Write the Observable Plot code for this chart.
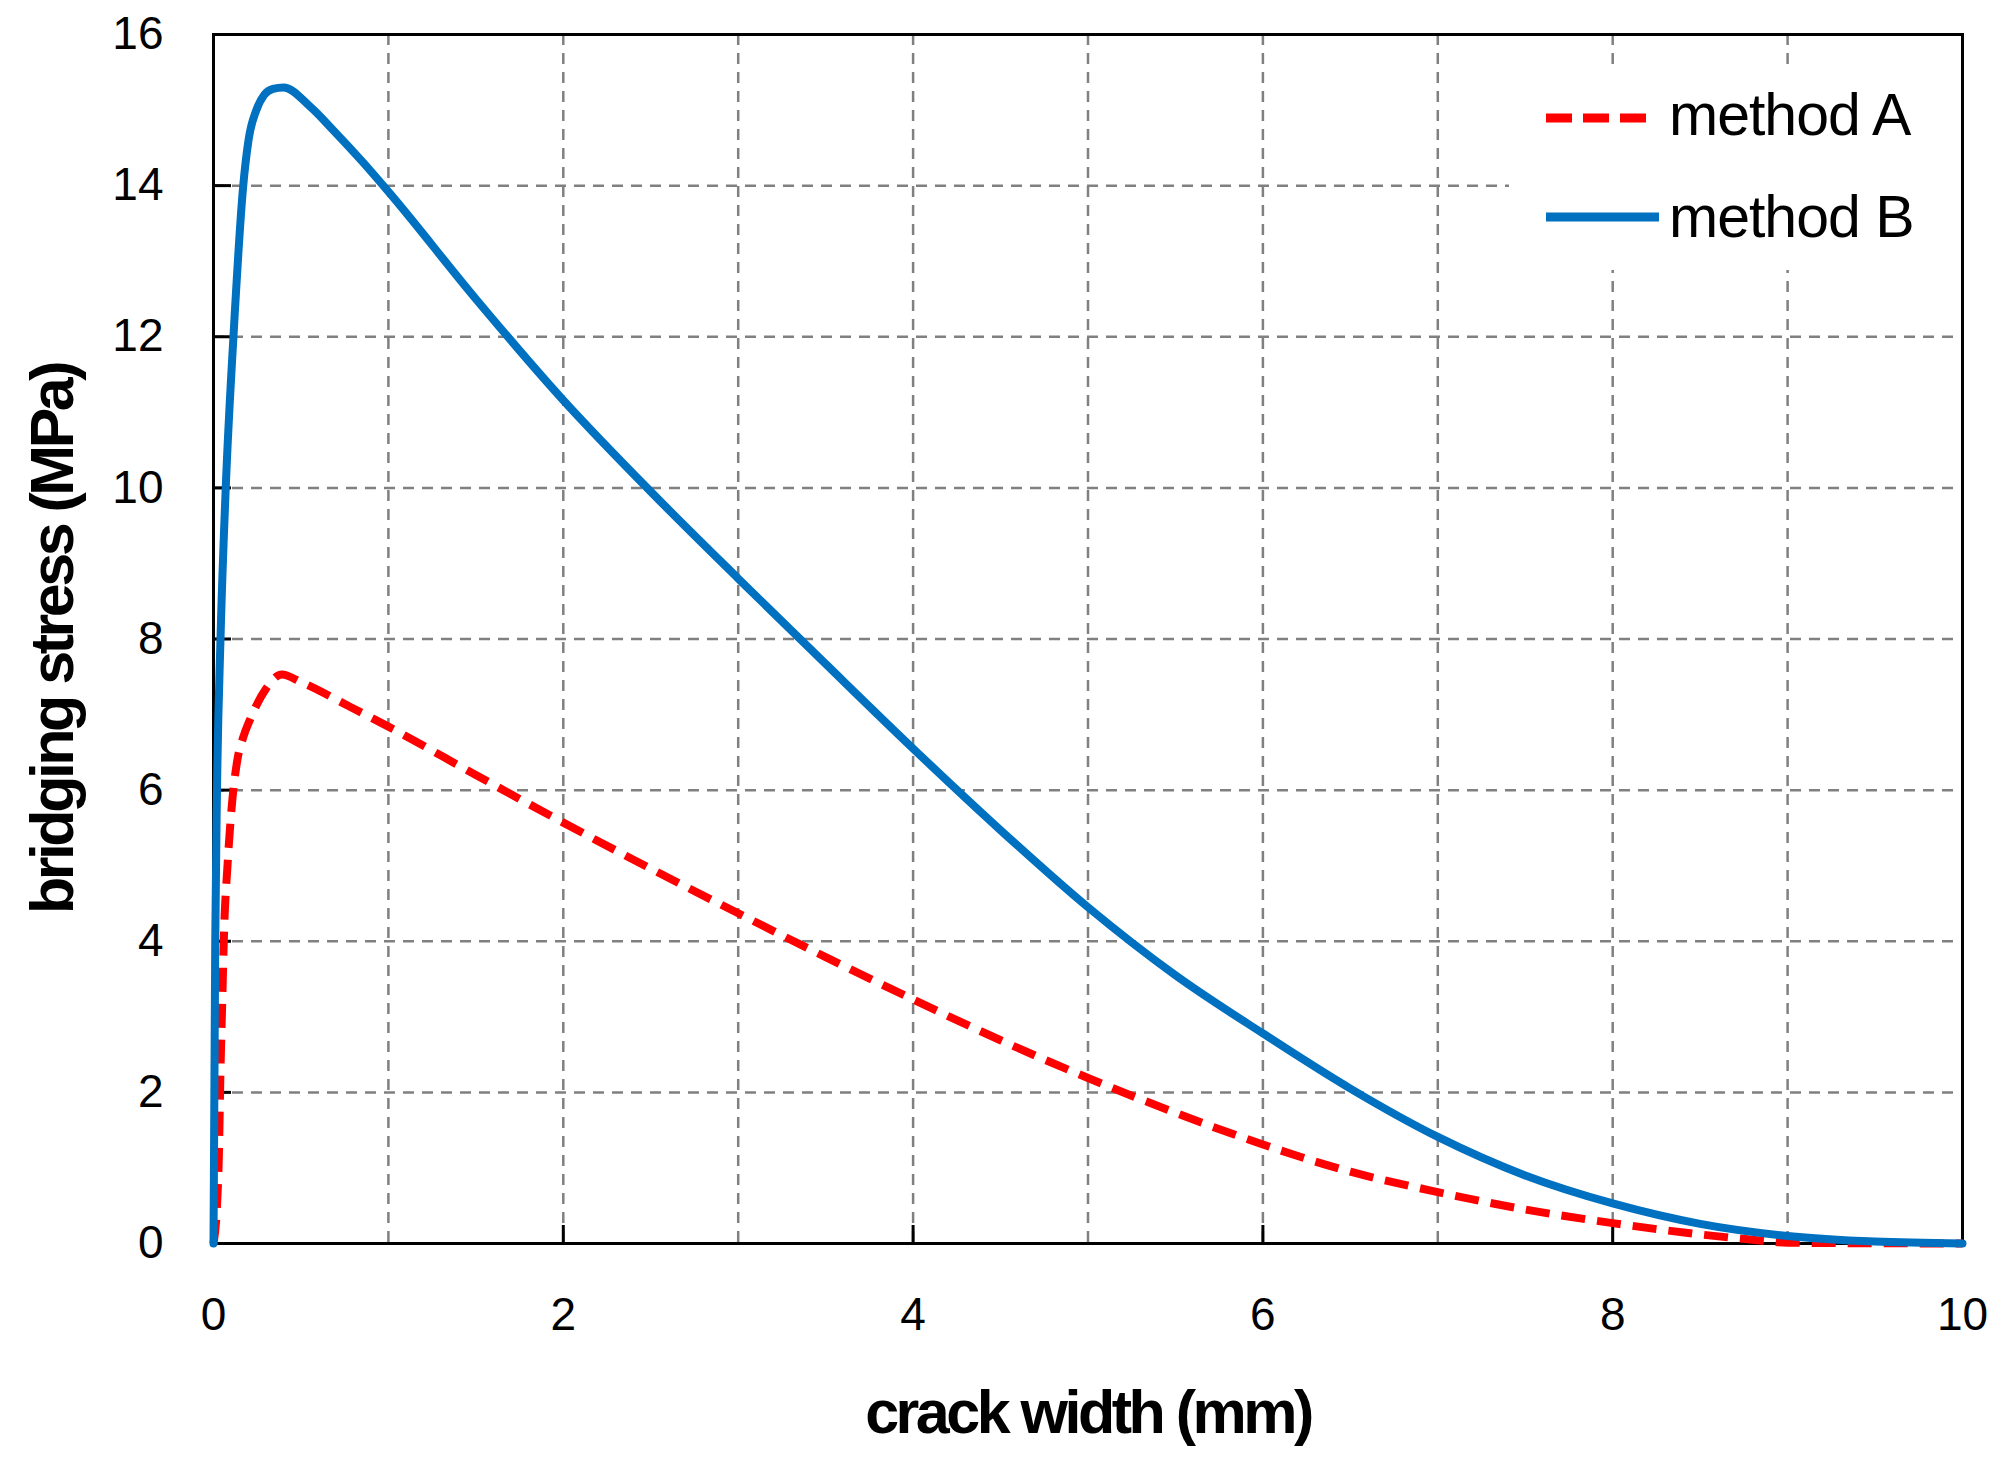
<!DOCTYPE html>
<html><head><meta charset="utf-8">
<script src="https://cdn.jsdelivr.net/npm/d3@7"></script>
<script src="https://cdn.jsdelivr.net/npm/@observablehq/plot@0.6"></script>
<style>
html,body{margin:0;padding:0;background:#fff;}
#chart svg{display:block;}
</style></head><body><div id="chart"></div>
<script>
// ---- data ----
const seriesNames = ["method A", "method B"];
const methodA_x = [0, 0.02, 0.03, 0.04, 0.05, 0.06, 0.08, 0.105, 0.135, 0.17, 0.21, 0.297, 0.39, 0.5, 0.783, 1, 1.5, 2, 2.5, 3, 3.5, 4, 4.5, 5, 5.5, 6, 6.5, 7, 7.5, 8, 8.5, 8.8, 9, 10];
const methodA_y = [0, 0.5, 1.1, 2.3, 3.2, 4.1, 5.0, 5.8, 6.38, 6.7, 6.94, 7.33, 7.53, 7.43, 7.1, 6.84, 6.2, 5.57, 4.96, 4.37, 3.79, 3.23, 2.69, 2.19, 1.73, 1.31, 0.95, 0.68, 0.45, 0.27, 0.12, 0.05, 0.01, 0];
const methodB_x = [0, 0.005, 0.01, 0.02, 0.04, 0.07, 0.114, 0.17, 0.2, 0.245, 0.29, 0.34, 0.4, 0.555, 0.686, 0.85, 1, 1.5, 2, 2.5, 3, 3.5, 4, 4.5, 5, 5.5, 6, 6.5, 7, 7.5, 8, 8.5, 9, 9.5, 10];
const methodB_y = [0, 2, 4, 6, 8, 10, 12, 14, 14.6, 15.0, 15.2, 15.28, 15.3, 15.04, 14.73, 14.32, 13.92, 12.5, 11.16, 9.95, 8.8, 7.67, 6.55, 5.47, 4.45, 3.55, 2.78, 2.05, 1.41, 0.9, 0.53, 0.26, 0.1, 0.025, 0];
const xGridTicks = [0, 1, 2, 3, 4, 5, 6, 7, 8, 9, 10];
const xTickLabels = [0, 2, 4, 6, 8, 10];
const yTickLabels = [0, 2, 4, 6, 8, 10, 12, 14, 16];
const xTitle = "crack width (mm)";
const yTitle = "bridging stress (MPa)";
const seriesColors = ["#ff0000", "#0070c0"];

const dataA = methodA_x.map((x, i) => ({x, y: methodA_y[i]}));
const dataB = methodB_x.map((x, i) => ({x, y: methodB_y[i]}));

// ---- layout ----
const W = 2002, H = 1457;
const mL = 213, mR = 40, mT = 34, mB = 214;
const pw = W - mL - mR, ph = H - mT - mB;
const FONT = "'Liberation Sans', Arial, Helvetica, sans-serif";
const gridStyle = {stroke: "#808080", strokeOpacity: 1, strokeWidth: 2.5, strokeDasharray: "11,8"};

const plot = Plot.plot({
  width: W, height: H,
  marginLeft: mL, marginRight: mR, marginTop: mT, marginBottom: mB,
  style: {fontFamily: FONT, fontSize: "46px", color: "black", background: "white", overflow: "visible"},
  x: {domain: [0, 10]},
  y: {domain: [0, 16]},
  marks: [
    Plot.gridX(xGridTicks, gridStyle),
    Plot.gridY(yTickLabels, gridStyle),
    Plot.frame({stroke: "black", strokeWidth: 3}),
    Plot.tickX(xTickLabels, {x: d => d, stroke: "black", strokeWidth: 3, insetTop: ph - 18}),
    Plot.tickY(yTickLabels, {y: d => d, stroke: "black", strokeWidth: 3, insetRight: pw - 18}),
    Plot.axisX(xTickLabels, {tickSize: 0, tickPadding: 54, label: null, fontSize: 46, tickFormat: d => String(d)}),
    Plot.axisY(yTickLabels, {tickSize: 0, tickPadding: 50, label: null, fontSize: 46, tickFormat: d => String(d)}),
    Plot.line(dataA, {x: "x", y: "y", stroke: seriesColors[0], strokeWidth: 8, strokeDasharray: "24,12", strokeLinecap: "butt", curve: "monotone-x"}),
    Plot.line(dataB, {x: "x", y: "y", stroke: seriesColors[1], strokeWidth: 8, curve: "monotone-x"}),
    Plot.text([xTitle], {text: d => d, frameAnchor: "bottom", textAnchor: "middle", lineAnchor: "bottom", dy: 189, fontSize: 61, fontWeight: "bold", fill: "black"}),
    Plot.text([yTitle], {text: d => d, frameAnchor: "left", textAnchor: "middle", lineAnchor: "bottom", rotate: -90, dx: -141, fontSize: 61, fontWeight: "bold", fill: "black"})
  ]
});
document.getElementById("chart").appendChild(plot);

// tighten the bold axis titles
d3.select(plot).selectAll("text").each(function() {
  const t = this.textContent;
  if (t === xTitle || t === yTitle) d3.select(this).style("letter-spacing", "-3.5px");
});

// ---- legend (inside the plot, top right) ----
const svg = d3.select(plot);
const lg = svg.append("g").attr("font-family", FONT).attr("text-anchor", "start");
lg.append("rect").attr("x", 1509).attr("y", 67).attr("width", 446).attr("height", 203).attr("fill", "white");
const rows = [
  {name: seriesNames[0], color: seriesColors[0], dash: "26,11", x2: 1646, y: 118, base: 135},
  {name: seriesNames[1], color: seriesColors[1], dash: null, x2: 1659, y: 217, base: 237}
];
rows.forEach(r => {
  lg.append("line").attr("x1", 1546).attr("x2", r.x2).attr("y1", r.y).attr("y2", r.y)
    .attr("stroke", r.color).attr("stroke-width", 9).attr("stroke-dasharray", r.dash);
  lg.append("text").attr("x", 1669).attr("y", r.base).attr("font-size", 59)
    .attr("text-anchor", "start")
    .style("letter-spacing", "-1px").attr("fill", "black").text(r.name);
});
</script></body></html>
